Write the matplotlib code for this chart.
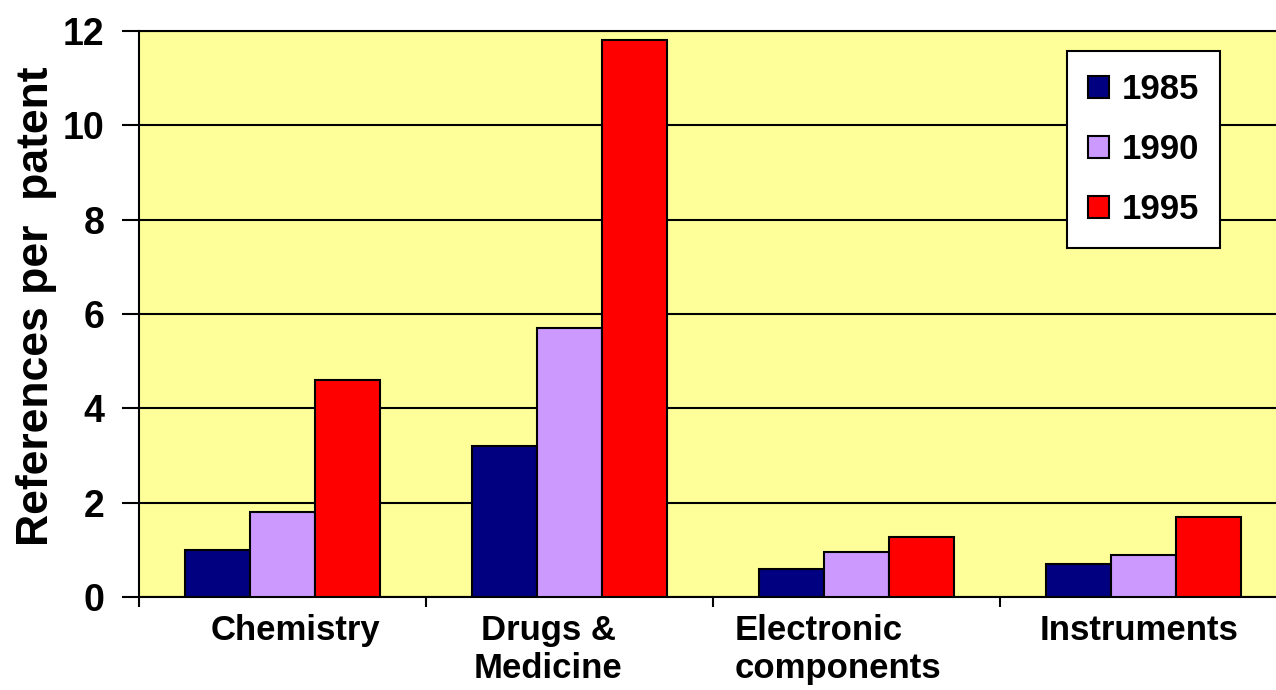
import numpy as np
import matplotlib
matplotlib.use("Agg")
import matplotlib.pyplot as plt
import matplotlib.transforms as mtransforms
from matplotlib.ticker import FixedLocator

# data
categories = ["Chemistry", "Drugs &\nMedicine", "Electronic\ncomponents", "Instruments"]
years = ["1985", "1990", "1995"]
vals_1985 = [1.0, 3.2, 0.6, 0.7]
vals_1990 = [1.8, 5.7, 0.95, 0.88]
vals_1995 = [4.6, 11.8, 1.28, 1.7]
colors = ["#000080", "#CC99FF", "#FF0000"]
yticks = [0, 2, 4, 6, 8, 10, 12]

# small horizontal nudges (pixels) of the category labels, as in the original
label_shift_px = [13, -21, -19, -4]

plt.rcParams['font.family'] = ['Liberation Sans', 'DejaVu Sans']
plt.rcParams['font.weight'] = 'bold'

fig = plt.figure(figsize=(12.76, 6.90), dpi=100)
ax = fig.add_axes([139 / 1276, 1 - 597 / 690, 1 - 139 / 1276, (597 - 31) / 690])
ax.set_facecolor("#FFFF99")

x = np.arange(len(categories))
w = 0.226
for i, (vals, lab, c) in enumerate(zip([vals_1985, vals_1990, vals_1995], years, colors)):
    ax.bar(x + (i - 1) * w, vals, w, color=c, edgecolor="black", linewidth=1.5,
           label=lab, zorder=3)

ax.set_ylim(0, 12)
ax.set_xlim(-0.5, -0.5 + (1276 - 139) / 287)
ax.set_yticks(yticks)
ax.yaxis.grid(True, color="black", linewidth=1.5, zorder=1)
ax.set_axisbelow(True)
ax.tick_params(axis="y", length=12, width=1.5, pad=13, labelsize=27)

# category labels at centres, tick marks at boundaries
ax.set_xticks(x)
ax.set_xticklabels(categories, fontsize=25, linespacing=1.22)
ax.tick_params(axis="x", which="major", length=0, pad=12)
ax.xaxis.set_minor_locator(FixedLocator(np.arange(len(categories)) - 0.5))
ax.tick_params(axis="x", which="minor", length=7, width=1.5)
for lbl, c, dx in zip(ax.get_xticklabels(), categories, label_shift_px):
    if c.startswith("Electronic"):
        lbl.set_multialignment("left")
    lbl.set_transform(lbl.get_transform() +
                      mtransforms.ScaledTranslation(dx / 100, 0, fig.dpi_scale_trans))

for s in ["left", "bottom", "top"]:
    ax.spines[s].set_linewidth(1.5)
ax.spines["right"].set_visible(False)

ax.set_ylabel("References per  patent", fontsize=32, fontweight="bold")
ax.yaxis.set_label_coords(-0.072, 0.514)

leg = ax.legend(loc="center", bbox_to_anchor=(1143.5 / 1276, 1 - 149.5 / 690),
                bbox_transform=fig.transFigure, fontsize=25, frameon=True,
                fancybox=False, edgecolor="black", framealpha=1,
                handlelength=0.6, handleheight=0.6, handletextpad=0.35,
                labelspacing=0.78, borderpad=0.62, borderaxespad=0)
leg.get_frame().set_linewidth(1.5)

fig.savefig("out.png", dpi=100)
